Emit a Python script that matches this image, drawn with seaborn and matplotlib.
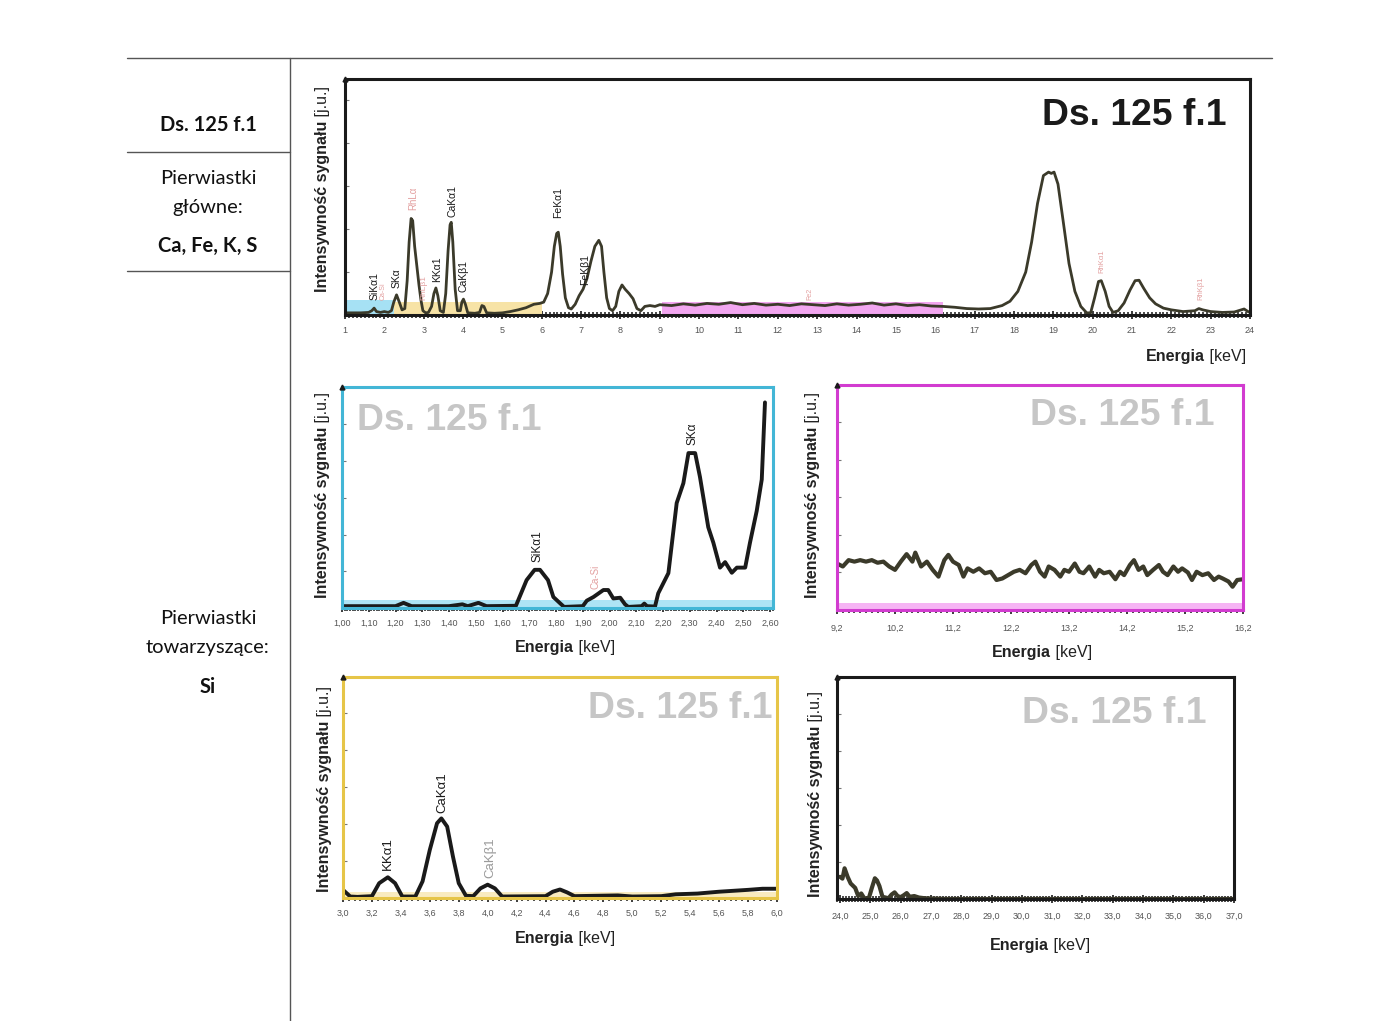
import pandas as pd
import seaborn as sns
import matplotlib.pyplot as plt
from matplotlib.ticker import MultipleLocator, FixedLocator, FuncFormatter

sns.set_theme(style="white")
plt.rcParams['font.family'] = ['Liberation Sans', 'DejaVu Sans']

# main spectrum, 1-24 keV
main_energy = [1.0, 1.2, 1.4, 1.6, 1.68, 1.74, 1.80, 1.9, 2.0, 2.1, 2.18, 2.24, 2.31, 2.38, 2.45,
               2.52, 2.58, 2.63, 2.68, 2.72, 2.77, 2.83, 2.88, 2.93, 2.98, 3.05, 3.12, 3.20, 3.26,
               3.31, 3.36, 3.42, 3.50, 3.56, 3.62, 3.67, 3.70, 3.74, 3.80, 3.86, 3.93, 3.97, 4.01,
               4.06, 4.12, 4.3, 4.42, 4.48, 4.53, 4.6, 4.8, 5.0, 5.2, 5.4, 5.6, 5.8, 5.95, 6.05,
               6.15, 6.25, 6.32, 6.38, 6.42, 6.47, 6.53, 6.60, 6.68, 6.75, 6.85, 6.95, 7.05, 7.15,
               7.25, 7.35, 7.45, 7.52, 7.58, 7.65, 7.72, 7.80, 7.88, 7.96, 8.04, 8.12, 8.22, 8.32,
               8.42, 8.52, 8.62, 8.75, 8.88, 9.0, 9.3, 9.6, 9.9, 10.2, 10.5, 10.8, 11.1, 11.4,
               11.7, 12.0, 12.3, 12.6, 12.9, 13.2, 13.5, 13.8, 14.1, 14.4, 14.7, 15.0, 15.3, 15.6,
               15.9, 16.2, 16.5, 16.8, 17.1, 17.4, 17.7, 17.9, 18.1, 18.3, 18.45, 18.6, 18.75,
               18.88, 18.95, 19.02, 19.12, 19.25, 19.4, 19.55, 19.7, 19.85, 19.95, 20.05, 20.15,
               20.22, 20.32, 20.42, 20.52, 20.65, 20.8, 20.95, 21.08, 21.18, 21.3, 21.45, 21.6,
               21.8, 22.0, 22.3, 22.6, 22.7, 22.8, 23.0, 23.3, 23.6, 23.85, 23.95, 24.0]
main_signal = [0.05, 0.05, 0.05, 0.06, 0.10, 0.16, 0.08, 0.06, 0.08, 0.06, 0.10, 0.30, 0.47, 0.30, 0.12,
               0.15, 0.80, 1.70, 2.25, 2.20, 1.60, 1.10, 0.70, 0.35, 0.10, 0.05, 0.06, 0.20, 0.50,
               0.63, 0.45, 0.10, 0.06, 0.50, 1.50, 2.10, 2.16, 1.70, 0.60, 0.10, 0.10, 0.30, 0.37,
               0.25, 0.05, 0.04, 0.06, 0.22, 0.20, 0.05, 0.04, 0.05, 0.08, 0.12, 0.17, 0.25, 0.27, 0.30,
               0.50, 1.00, 1.60, 1.90, 1.93, 1.60, 0.95, 0.40, 0.17, 0.14, 0.25, 0.45, 0.60, 0.85,
               1.25, 1.60, 1.74, 1.60, 1.00, 0.40, 0.15, 0.10, 0.20, 0.55, 0.70, 0.60, 0.50, 0.38,
               0.15, 0.10, 0.20, 0.22, 0.20, 0.24, 0.22, 0.26, 0.23, 0.27, 0.25, 0.29, 0.24, 0.27,
               0.23, 0.25, 0.22, 0.26, 0.24, 0.22, 0.26, 0.23, 0.25, 0.28, 0.23, 0.26, 0.22, 0.24,
               0.21, 0.20, 0.18, 0.15, 0.14, 0.15, 0.22, 0.32, 0.55, 1.00, 1.70, 2.60, 3.25,
               3.33, 3.30, 3.33, 3.05, 2.20, 1.20, 0.55, 0.20, 0.05, 0.05, 0.40, 0.78,
               0.80, 0.55, 0.20, 0.06, 0.10, 0.28, 0.58, 0.80, 0.81, 0.62, 0.40, 0.26,
               0.16, 0.12, 0.08, 0.10, 0.15, 0.12, 0.08, 0.06, 0.07, 0.14, 0.08, 0.06]

# detail 1.00-2.60 keV
si_energy = [1.00, 1.10, 1.20, 1.23, 1.26, 1.40, 1.45, 1.47, 1.51, 1.54, 1.65, 1.69, 1.72, 1.74,
             1.77, 1.79, 1.815, 1.83, 1.90, 1.915, 1.94, 1.977, 1.995, 2.014, 2.04, 2.058, 2.07,
             2.12, 2.13, 2.14, 2.17, 2.182, 2.22, 2.251, 2.276, 2.295, 2.32, 2.338, 2.369, 2.388,
             2.413, 2.432, 2.457, 2.476, 2.507, 2.525, 2.55, 2.569, 2.581]
si_signal = [0.05, 0.05, 0.05, 0.14, 0.05, 0.05, 0.10, 0.05, 0.14, 0.05, 0.06, 0.76, 1.04, 1.04,
             0.76, 0.30, 0.13, 0.03, 0.05, 0.20, 0.30, 0.49, 0.49, 0.26, 0.28, 0.10, 0.03,
             0.05, 0.12, 0.05, 0.04, 0.40, 0.95, 2.86, 3.40, 4.22, 4.22, 3.57, 2.20, 1.78,
             1.10, 1.25, 0.96, 1.10, 1.10, 1.78, 2.64, 3.50, 5.60]

# detail 9.2-16.2 keV
mid_energy = [9.2, 9.3, 9.4, 9.5, 9.6, 9.7, 9.8, 9.9, 10.0, 10.1, 10.2, 10.3, 10.4, 10.5,
              10.55, 10.65, 10.75, 10.85, 10.95,
              11.05, 11.12, 11.2, 11.3, 11.38, 11.45, 11.55, 11.65, 11.75, 11.85, 11.95,
              12.05, 12.15, 12.25, 12.35, 12.45, 12.55, 12.62, 12.7, 12.78, 12.85, 12.95,
              13.05, 13.12, 13.2, 13.3, 13.38, 13.45, 13.55, 13.65, 13.72, 13.8, 13.9,
              14.0, 14.08, 14.15, 14.25, 14.32, 14.4, 14.48, 14.55, 14.65, 14.75, 14.82, 14.9,
              15.0, 15.08, 15.15, 15.25, 15.32, 15.4, 15.5, 15.6, 15.7, 15.78, 15.85, 15.95,
              16.02, 16.1, 16.2]
mid_signal = [1.24, 1.16, 1.33, 1.29, 1.33, 1.29, 1.33, 1.26, 1.29, 1.16, 1.07, 1.29, 1.49, 1.29,
              1.53, 1.16, 1.29, 1.07, 0.89,
              1.33, 1.47, 1.29, 1.20, 0.89, 1.11, 1.02, 1.11, 0.98, 1.02, 0.80,
              0.84, 0.93, 1.02, 1.07, 0.98, 1.20, 1.29, 1.02, 0.89, 1.16, 1.07,
              0.89, 1.07, 1.02, 1.24, 1.02, 0.98, 1.16, 0.89, 1.07, 0.98, 1.02,
              0.82, 1.02, 0.93, 1.20, 1.33, 1.07, 1.16, 0.93, 1.07, 1.20, 1.02, 0.93,
              1.16, 1.02, 1.11, 1.00, 0.80, 1.02, 0.93, 0.98, 0.80, 0.89, 0.84, 0.76,
              0.62, 0.80, 0.82]
mid_ticks = [9.2, 10.2, 11.2, 12.2, 13.2, 14.2, 15.2, 16.2]

# detail 3.0-6.0 keV
ca_energy = [3.00, 3.05, 3.10, 3.20, 3.25, 3.31, 3.36, 3.41, 3.50, 3.55, 3.60, 3.65, 3.68, 3.72,
             3.76, 3.80, 3.85, 3.90, 3.95, 4.00, 4.05, 4.10, 4.40, 4.45, 4.50, 4.55, 4.60, 4.90,
             5.00, 5.20, 5.30, 5.45, 5.60, 5.80, 5.90, 6.00]
ca_signal = [0.22, 0.04, 0.03, 0.05, 0.40, 0.56, 0.40, 0.04, 0.04, 0.45, 1.30, 2.02, 2.15, 1.93,
             1.12, 0.40, 0.06, 0.05, 0.26, 0.36, 0.26, 0.04, 0.05, 0.17, 0.23, 0.15, 0.05, 0.07,
             0.04, 0.05, 0.10, 0.12, 0.17, 0.22, 0.25, 0.25]

# detail 24-37 keV
hi_energy = [24.0, 24.08, 24.15, 24.25, 24.35, 24.5, 24.6, 24.7, 24.8, 24.95, 25.05, 25.15, 25.22,
             25.3, 25.4, 25.6, 25.7, 25.8, 25.9, 26.0, 26.1, 26.2, 26.3, 26.45, 26.6, 26.8, 27.5, 37.0]
hi_signal = [0.60, 0.55, 0.83, 0.60, 0.42, 0.30, 0.08, 0.15, 0.02, 0.02, 0.30, 0.56, 0.50,
             0.35, 0.06, 0.02, 0.12, 0.18, 0.08, 0.05, 0.10, 0.16, 0.06, 0.08, 0.04, 0.02, 0.0, 0.0]

# energy windows marked on the main spectrum
windows = [(1.05, 2.25, 0.35, '#a6e1f4'), (2.25, 6.0, 0.31, '#f7e3a6'), (9.05, 16.2, 0.31, '#f2a6f0')]

PINK = '#e3a0a0'
main_lines = [('SiKα1', 1.74, 0.35, 'k', 7.5), ('Ca-Si', 1.97, 0.35, PINK, 5),
              ('SKα', 2.32, 0.63, 'k', 7.5), ('RhLα', 2.73, 2.44, PINK, 7),
              ('RhLβ1', 3.0, 0.35, PINK, 6), ('KKα1', 3.34, 0.77, 'k', 7.5),
              ('CaKα1', 3.72, 2.28, 'k', 7.5), ('CaKβ1', 4.02, 0.53, 'k', 7.5),
              ('FeKα1', 6.41, 2.26, 'k', 7.5), ('FeKβ1', 7.10, 0.70, 'k', 7.5),
              ('Fe2', 12.82, 0.35, PINK, 5), ('RhKα1', 20.24, 0.98, PINK, 5.5),
              ('RhKβ1', 22.75, 0.35, PINK, 5.5)]
si_lines = [('SiKα1', 1.73, 1.25, 'k', 8.5), ('Ca-Si', 1.946, 0.52, PINK, 7),
            ('SKα', 2.31, 4.44, 'k', 8.5)]
ca_lines = [('KKα1', 3.31, 0.76, 'k', 9.5), ('CaKα1', 3.69, 2.30, 'k', 9.5),
            ('CaKβ1', 4.02, 0.54, '#9a9a9a', 9.5)]

W, H = 1400, 1021
fig = plt.figure(figsize=(14, 10.21), dpi=100)


def fx(x):
    return x / W


def fy(y):
    return 1 - y / H


def rect(x0, y0, x1, y1):
    return [fx(x0), fy(y1), (x1 - x0) / W, (y1 - y0) / H]


def spectrum(r, energy, signal, xlim, ylim, frame, line, lw, major, minor, fmt, pad=5):
    ax = fig.add_axes(rect(*r))
    df = pd.DataFrame({'E': energy, 'I': signal})
    sns.lineplot(data=df, x='E', y='I', ax=ax, color=line, lw=lw, zorder=3)
    ax.set_xlim(xlim)
    ax.set_ylim(ylim)
    ax.set_xlabel('')
    ax.set_ylabel('')
    for s in ax.spines.values():
        s.set_visible(True)
        s.set_color(frame)
        s.set_linewidth(2.2)
        s.set_zorder(4)
    if isinstance(major, list):
        ax.xaxis.set_major_locator(FixedLocator(major))
    else:
        ax.xaxis.set_major_locator(MultipleLocator(major))
    ax.xaxis.set_minor_locator(MultipleLocator(minor))
    ax.xaxis.set_major_formatter(FuncFormatter(lambda v, p: fmt.format(v).replace('.', ',')))
    ax.tick_params(axis='x', which='both', direction='inout', bottom=True, color='k', zorder=5)
    ax.tick_params(axis='x', which='major', length=6, width=1.2, labelsize=6.5,
                   labelcolor='#555555', pad=pad)
    ax.tick_params(axis='x', which='minor', length=5, width=1.1)
    ax.yaxis.set_major_locator(MultipleLocator(1))
    ax.tick_params(axis='y', direction='in', left=True, length=3, width=0.8,
                   color='#777777', labelleft=False)
    ax.plot(0, 1, marker='^', ms=3.5, color='k', transform=ax.transAxes, clip_on=False, zorder=6)
    return ax


def peak_labels(ax, lines):
    for name, e, y, c, size in lines:
        ax.text(e, y, name, rotation=90, ha='center', va='bottom', fontsize=size, color=c, zorder=5)


def ylabel(x, ybottom):
    t = fig.text(fx(x), fy(ybottom), 'Intensywność sygnału', rotation=90, ha='center',
                 va='bottom', fontsize=11.5, weight='bold', color='#222222')
    fig.axes[0].annotate(' [j.u.]', xy=(0.5, 1), xycoords=t, rotation=90, ha='center',
                         va='bottom', fontsize=11.5, color='#222222', annotation_clip=False)


def xlabel(cx, ybase):
    t = fig.text(fx(cx - 50), fy(ybase), 'Energia', ha='left', va='baseline',
                 fontsize=11.5, weight='bold', color='#222222')
    fig.axes[0].annotate(' [keV]', xy=(1, 0), xycoords=t, ha='left', va='bottom',
                         fontsize=11.5, color='#222222', annotation_clip=False)


def stamp(x, ybase, ha, color):
    fig.text(fx(x), fy(ybase), 'Ds. 125 f.1', ha=ha, va='baseline', fontsize=26.8,
             weight='bold', color=color, zorder=10)


# main spectrum
ax = spectrum((345, 79, 1250, 315), main_energy, main_signal, (1, 24), (0, 5.5),
              'k', '#3b3a2a', 2.0, 1, 0.1, '{:.0f}')
for a, b, h, c in windows:
    ax.fill_between([a, b], 0, h, color=c, lw=0, zorder=1)
peak_labels(ax, main_lines)

# 1.00-2.60 keV
ax = spectrum((342, 387, 773, 608), si_energy, si_signal, (1.0, 2.611), (0, 6.02),
              '#43b6d6', 'k', 2.8, 0.1, 0.01, '{:.2f}')
ax.fill_between([1.0, 2.611], 0, 0.22, color='#aee4f5', lw=0, zorder=1)
peak_labels(ax, si_lines)

# 9.2-16.2 keV
ax = spectrum((837, 385, 1243, 610), mid_energy, mid_signal, (9.2, 16.2), (0, 6.0),
              '#d23cd0', '#3b3a2a', 3.0, mid_ticks, 0.1, '{:.1f}', pad=7)
ax.fill_between([9.2, 16.2], 0, 0.19, color='#f6b4f4', lw=0, zorder=1)

# 3.0-6.0 keV
ax = spectrum((343, 677, 777, 898), ca_energy, ca_signal, (3.0, 6.0), (0, 5.97),
              '#e6c548', 'k', 2.8, 0.2, 0.04, '{:.1f}')
ax.fill_between([3.0, 6.0], 0, 0.15, color='#f9ebc0', lw=0, zorder=1)
peak_labels(ax, ca_lines)

# 24-37 keV
ax = spectrum((837, 677, 1234, 899), hi_energy, hi_signal, (23.9, 37.0), (0, 6.0),
              'k', '#3b3a2a', 3.0, 1, 0.1, '{:.1f}', pad=6)

# titles
stamp(1227, 125, 'right', 'k')
stamp(357, 430, 'left', '#c6c6c6')
stamp(1215, 425, 'right', '#c6c6c6')
stamp(773, 718, 'right', '#c6c6c6')
stamp(1207, 723, 'right', '#c6c6c6')

# axis labels
ylabel(323, 292)
ylabel(323, 598)
ylabel(813, 598)
ylabel(325, 892)
ylabel(815, 897)
xlabel(1196, 361)
xlabel(565, 652)
xlabel(1042, 657)
xlabel(565, 943)
xlabel(1040, 950)

# table at the left
for xs, ys in [((127, 1272), (58, 58)), ((290, 290), (58, 1021)),
               ((127, 290), (152, 152)), ((127, 290), (271, 271))]:
    fig.add_artist(plt.Line2D([fx(v) for v in xs], [fy(v) for v in ys], color='#555555', lw=1))

side = ['Lato', 'DejaVu Sans']
for text, y, w in [('Ds. 125 f.1', 125, 'bold'), ('Pierwiastki', 178, 'normal'),
                   ('główne:', 207, 'normal'), ('Ca, Fe, K, S', 246, 'bold'),
                   ('Pierwiastki', 618, 'normal'), ('towarzyszące:', 647, 'normal'),
                   ('Si', 687, 'bold')]:
    fig.text(fx(208), fy(y), text, ha='center', va='center', fontsize=14.5, weight=w,
             family=side, color='#111111')

fig.savefig('out.png', dpi=100)
